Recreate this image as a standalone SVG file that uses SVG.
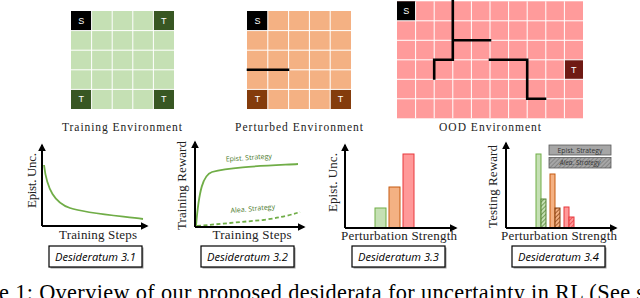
<svg xmlns="http://www.w3.org/2000/svg" width="640" height="298" viewBox="0 0 640 298">
<style>
.gl{stroke:#fff;stroke-width:1;fill:none}
.wall{stroke:#000;stroke-width:2.6;fill:none;stroke-linecap:square}
.cl{font-family:"Liberation Sans",Arial,sans-serif;font-size:9px;fill:#fff;text-anchor:middle}
.env{font-family:"Liberation Serif","Times New Roman",serif;font-size:11.5px;fill:#222;text-anchor:middle}
.ax{font-family:"Liberation Serif","Times New Roman",serif;font-size:13px;fill:#222;text-anchor:middle}
.axis{stroke:#000;stroke-width:2;fill:none}
.box{fill:#fff;stroke:#000;stroke-width:1.2}
.shadow{fill:#999}
.des{font-family:"Open Sans","Noto Sans",sans-serif;font-style:italic;font-size:11.5px;fill:#000;text-anchor:middle}
.curve{stroke:#70ad47;stroke-width:1.8;fill:none}
.sl{font-family:"Open Sans","Noto Sans",sans-serif;font-size:7px;fill:#4c7a2c;text-anchor:middle}
.lg{font-family:"Open Sans","Noto Sans",sans-serif;font-size:6.8px;fill:#333;text-anchor:middle}
.cap{font-family:"Liberation Serif","Times New Roman",serif;font-size:22.3px;fill:#000}
.bg{fill:#c5e0b4;stroke:#70ad47;stroke-width:1}
.bo{fill:#f4b183;stroke:#c55a11;stroke-width:1}
.br{fill:#ff9999;stroke:#e8383d;stroke-width:1}
</style>
<defs>
<marker id="arr" viewBox="0 0 10 10" refX="8" refY="5" markerWidth="4" markerHeight="4" orient="auto" markerUnits="strokeWidth">
<path d="M0,0 L10,5 L0,10 z" fill="#000"/>
</marker>
<pattern id="hg" patternUnits="userSpaceOnUse" width="3" height="3" patternTransform="rotate(45)">
<rect width="3" height="3" fill="#c5e0b4"/><line x1="0" y1="0" x2="0" y2="3" stroke="#548235" stroke-width="1.4"/>
</pattern>
<pattern id="ho" patternUnits="userSpaceOnUse" width="3" height="3" patternTransform="rotate(45)">
<rect width="3" height="3" fill="#f4b183"/><line x1="0" y1="0" x2="0" y2="3" stroke="#843c0c" stroke-width="1.4"/>
</pattern>
<pattern id="hr" patternUnits="userSpaceOnUse" width="3" height="3" patternTransform="rotate(45)">
<rect width="3" height="3" fill="#ff9999"/><line x1="0" y1="0" x2="0" y2="3" stroke="#e8383d" stroke-width="1.4"/>
</pattern>
<pattern id="hk" patternUnits="userSpaceOnUse" width="3" height="3" patternTransform="rotate(45)">
<rect width="3" height="3" fill="#a6a6a6"/><line x1="0" y1="0" x2="0" y2="3" stroke="#6e6e6e" stroke-width="1.2"/>
</pattern>
</defs>
<rect width="640" height="298" fill="#fff"/>

<!-- Training environment -->
<g id="training-env">
<rect x="71" y="11" width="103" height="98" fill="#c5e0b4"/>
<rect x="71" y="11" width="20.6" height="19.6" fill="#000"/>
<rect x="153.4" y="11" width="20.6" height="19.6" fill="#385723"/>
<rect x="71" y="89.4" width="20.6" height="19.6" fill="#385723"/>
<rect x="153.4" y="89.4" width="20.6" height="19.6" fill="#385723"/>
<path class="gl" d="M91.6,11V109M112.2,11V109M132.8,11V109M153.4,11V109M71,30.6H174M71,50.2H174M71,69.8H174M71,89.4H174"/>
<text class="cl" x="81.3" y="24">S</text>
<text class="cl" x="163.7" y="24">T</text>
<text class="cl" x="81.3" y="102.4">T</text>
<text class="cl" x="163.7" y="102.4">T</text>
<text class="env" x="122" y="131" textLength="120" lengthAdjust="spacing">Training Environment</text>
</g>

<!-- Perturbed environment -->
<g id="perturbed-env">
<rect x="247" y="11" width="104" height="98" fill="#f4b183"/>
<rect x="247" y="11" width="20.8" height="19.6" fill="#000"/>
<rect x="247" y="89.4" width="20.8" height="19.6" fill="#843c0c"/>
<rect x="330.2" y="89.4" width="20.8" height="19.6" fill="#843c0c"/>
<path class="gl" d="M267.8,11V109M288.6,11V109M309.4,11V109M330.2,11V109M247,30.6H351M247,50.2H351M247,69.8H351M247,89.4H351"/>
<path class="wall" d="M248,69.8H288"/>
<text class="cl" x="257.4" y="24">S</text>
<text class="cl" x="257.4" y="102.4">T</text>
<text class="cl" x="340.6" y="102.4">T</text>
<text class="env" x="299" y="131" textLength="128" lengthAdjust="spacing">Perturbed Environment</text>
</g>

<!-- OOD environment -->
<g id="ood-env">
<rect x="397" y="1.3" width="186" height="117" fill="#ff9b9b"/>
<rect x="397" y="1.3" width="18.6" height="19.5" fill="#000"/>
<rect x="564.4" y="59.8" width="18.6" height="19.5" fill="#6f1a14"/>
<path class="gl" d="M415.6,1.3V118.3M434.2,1.3V118.3M452.8,1.3V118.3M471.4,1.3V118.3M490,1.3V118.3M508.6,1.3V118.3M527.2,1.3V118.3M545.8,1.3V118.3M564.4,1.3V118.3M397,20.8H583M397,40.3H583M397,59.8H583M397,79.3H583M397,98.8H583"/>
<path class="wall" d="M452.8,1V59.8M452.8,40.3H490M434.2,59.8H452.8M434.2,59.8V78.5M490,59.8H527.2V98.8H545"/>
<text class="cl" x="406.3" y="14.2">S</text>
<text class="cl" x="573.7" y="72.7">T</text>
<text class="env" x="490" y="131" textLength="102" lengthAdjust="spacing">OOD Environment</text>
</g>

<!-- Plot 1 -->
<g id="plot-3-1">
<path class="curve" d="M44,165 C47,190 55,203 70,208 S110,215 143,219"/>
<text class="ax" transform="translate(35.5,180.5) rotate(-90)" textLength="55" lengthAdjust="spacing">Epist. Unc.</text>
<text class="ax" x="98" y="239" textLength="78" lengthAdjust="spacing">Training Steps</text>
<rect class="shadow" x="50.5" y="247.5" width="93" height="21"/>
<rect class="box" x="49" y="246" width="93" height="21"/>
<text class="des" x="95.5" y="261" textLength="81" lengthAdjust="spacingAndGlyphs">Desideratum 3.1</text>
</g>

<!-- Plot 2 -->
<g id="plot-3-2">
<path class="curve" d="M196,226 C199,190 203,175 212,172 C230,167 260,166 298,164"/>
<path class="curve" stroke-dasharray="4,2.5" d="M197,226 L230,223 L263,220 Q285,217 300,212"/>
<text class="sl" transform="translate(249,160) rotate(-4)">Epist. Strategy</text>
<text class="sl" transform="translate(253,211) rotate(-5)">Alea. Strategy</text>
<text class="ax" transform="translate(186,185.5) rotate(-90)" textLength="89" lengthAdjust="spacing">Training Reward</text>
<text class="ax" x="252" y="239" textLength="79" lengthAdjust="spacing">Training Steps</text>
<rect class="shadow" x="202.5" y="247.5" width="93" height="21"/>
<rect class="box" x="201" y="246" width="93" height="21"/>
<text class="des" x="247.5" y="261" textLength="81" lengthAdjust="spacingAndGlyphs">Desideratum 3.2</text>
</g>

<!-- Plot 3 -->
<g id="plot-3-3">
<rect class="bg" x="375" y="208" width="11" height="20"/>
<rect class="bo" x="389" y="187" width="11" height="41"/>
<rect class="br" x="403" y="154" width="11" height="74"/>
<text class="ax" transform="translate(337,182.5) rotate(-90)" textLength="59" lengthAdjust="spacing">Epist. Unc.</text>
<text class="ax" x="399" y="240" textLength="116" lengthAdjust="spacing">Perturbation Strength</text>
<rect class="shadow" x="353.5" y="247.5" width="93" height="21"/>
<rect class="box" x="352" y="246" width="93" height="21"/>
<text class="des" x="398.5" y="261" textLength="81" lengthAdjust="spacingAndGlyphs">Desideratum 3.3</text>
</g>

<!-- Plot 4 -->
<g id="plot-3-4">
<rect class="bg" x="536" y="154" width="5" height="74"/>
<rect x="541" y="199" width="5" height="29" fill="url(#hg)" stroke="#548235" stroke-width="1"/>
<rect class="bo" x="550" y="174" width="5" height="54"/>
<rect x="555" y="208" width="5" height="20" fill="url(#ho)" stroke="#843c0c" stroke-width="1"/>
<rect class="br" x="564" y="207" width="5" height="21"/>
<rect x="569" y="217" width="5" height="11" fill="url(#hr)" stroke="#e8383d" stroke-width="1"/>
<rect x="549" y="145" width="62" height="10" fill="#a6a6a6" stroke="#595959" stroke-width="0.8"/>
<text class="lg" x="580" y="152.5">Epist. Strategy</text>
<rect x="549" y="157.5" width="62" height="10.5" fill="url(#hk)" stroke="#595959" stroke-width="0.8"/>
<text class="lg" x="580" y="165.3" font-style="italic">Alea. Strategy</text>
<text class="ax" transform="translate(497,186.5) rotate(-90)" textLength="83" lengthAdjust="spacing">Testing Reward</text>
<text class="ax" x="559" y="240" textLength="116" lengthAdjust="spacing">Perturbation Strength</text>
<rect class="shadow" x="513.5" y="247.5" width="93" height="21"/>
<rect class="box" x="512" y="246" width="93" height="21"/>
<text class="des" x="558.5" y="261" textLength="81" lengthAdjust="spacingAndGlyphs">Desideratum 3.4</text>
</g>

<!-- Axes (connectors) -->
<g id="axes">
<path class="axis" marker-end="url(#arr)" d="M42,226V145"/>
<path class="axis" marker-end="url(#arr)" d="M42,226H147"/>
<path class="axis" marker-end="url(#arr)" d="M195,227V142"/>
<path class="axis" marker-end="url(#arr)" d="M195,227H304"/>
<path class="axis" marker-end="url(#arr)" d="M345,228V145"/>
<path class="axis" marker-end="url(#arr)" d="M345,228H456"/>
<path class="axis" marker-end="url(#arr)" d="M506,228V143"/>
<path class="axis" marker-end="url(#arr)" d="M506,228H616"/>
</g>

<text class="cap" x="-1" y="300" textLength="646" lengthAdjust="spacing">e 1: Overview of our proposed desiderata for uncertainty in RL (See s</text>
</svg>
